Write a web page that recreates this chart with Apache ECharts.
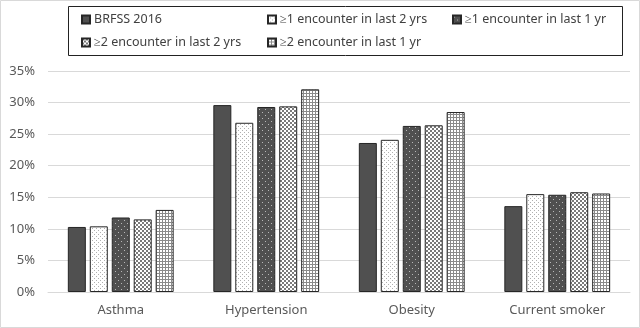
<!DOCTYPE html>
<html>
<head>
<meta charset="utf-8">
<script src="https://cdn.jsdelivr.net/npm/echarts@6/dist/echarts.min.js"></script>
<style>
  html, body { margin: 0; padding: 0; background: #fff; }
  #chart { width: 640px; height: 328px; }
</style>
</head>
<body>
<div id="chart"></div>
<script>
const categories = ['Asthma', 'Hypertension', 'Obesity', 'Current smoker'];
const seriesNames = [
  'BRFSS 2016',
  '≥1 encounter in last 2 yrs',
  '≥1 encounter in last 1 yr',
  '≥2 encounter in last 2 yrs',
  '≥2 encounter in last 1 yr'
];
const brfss2016 = [10.3, 29.6, 23.6, 13.6];
const enc1Last2 = [10.4, 26.8, 24.1, 15.5];
const enc1Last1 = [11.8, 29.3, 26.3, 15.4];
const enc2Last2 = [11.5, 29.4, 26.4, 15.8];
const enc2Last1 = [13.0, 32.1, 28.5, 15.6];
const values = [brfss2016, enc1Last2, enc1Last1, enc2Last2, enc2Last1];

// fill patterns drawn on tiny canvases
function tile(size, bg, draw) {
  const c = document.createElement('canvas');
  c.width = c.height = size;
  const ctx = c.getContext('2d');
  ctx.fillStyle = bg;
  ctx.fillRect(0, 0, size, size);
  draw(ctx);
  return { image: c, repeat: 'repeat' };
}
const fills = [
  '#505050',
  tile(4, '#ffffff', ctx => { ctx.fillStyle = '#b0b0b0'; ctx.fillRect(0, 0, 1, 1); ctx.fillRect(2, 2, 1, 1); }),
  tile(6, '#505050', ctx => { ctx.fillStyle = '#b8b8b8'; ctx.fillRect(1, 1, 1, 1); ctx.fillRect(4, 4, 1, 1); }),
  tile(4, '#ffffff', ctx => { ctx.fillStyle = '#7a7a7a'; ctx.fillRect(0, 0, 2, 2); ctx.fillRect(2, 2, 2, 2); }),
  tile(3, '#ffffff', ctx => { ctx.fillStyle = '#8a8a8a'; ctx.fillRect(0, 0, 3, 1); ctx.fillRect(0, 0, 1, 3); })
];

const legendPos = [[81, 13], [267, 13], [452, 13], [81, 36], [267, 36]];

const chart = echarts.init(document.getElementById('chart'));
chart.setOption({
  animation: false,
  textStyle: { fontFamily: 'Noto Sans' },
  graphic: [
    { type: 'rect', shape: { x: 0.5, y: 0.5, width: 639, height: 327 }, style: { fill: 'none', stroke: '#d9d9d9', lineWidth: 1 } },
    { type: 'rect', shape: { x: 68.5, y: 6.5, width: 554, height: 49 }, style: { fill: 'none', stroke: '#222', lineWidth: 1 } }
  ],
  legend: seriesNames.map((n, i) => ({
    data: [n],
    left: legendPos[i][0],
    top: legendPos[i][1],
    padding: 0,
    icon: 'rect',
    itemWidth: 8,
    itemHeight: 8,
    itemGap: 4,
    selectedMode: false,
    textStyle: { fontSize: 12.5, color: '#404040', padding: [0, 0, 0, -1] }
  })),
  grid: { left: 48, right: 10, top: 71, bottom: 36 },
  xAxis: {
    type: 'category',
    data: categories,
    axisTick: { show: false },
    axisLine: { lineStyle: { color: '#d9d9d9' } },
    axisLabel: { color: '#595959', fontSize: 13, margin: 12 }
  },
  yAxis: {
    type: 'value',
    min: 0,
    max: 35,
    interval: 5,
    axisLabel: { formatter: '{value}%', color: '#595959', fontSize: 13, margin: 13 },
    splitLine: { lineStyle: { color: '#d9d9d9' } }
  },
  series: seriesNames.map((n, i) => ({
    name: n,
    type: 'bar',
    data: values[i],
    barWidth: 18,
    barGap: '22%',
    itemStyle: { color: fills[i], borderColor: '#262626', borderWidth: 1 }
  }))
});
</script>
</body>
</html>
